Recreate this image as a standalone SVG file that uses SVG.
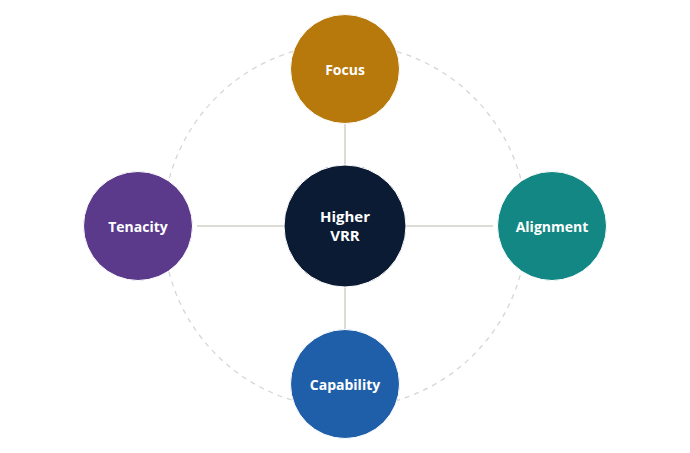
<svg xmlns="http://www.w3.org/2000/svg" width="690" height="453" viewBox="0 0 690 453">
<style>
.lbl{font-family:"Open Sans","Liberation Sans",sans-serif;font-weight:700;font-size:14px;fill:#ffffff;text-anchor:middle}
.big{font-size:15px}
.conn{stroke:#dcdcd6;stroke-width:2;fill:none}
.ring{stroke:#d6d6d6;stroke-width:1.3;fill:none;stroke-dasharray:5 5}
.node{stroke:#ffffff;stroke-width:1}
</style>
<rect width="690" height="453" fill="#ffffff"/>
<g id="connectors">
<circle class="ring" cx="345" cy="226" r="182"/>
<line class="conn" x1="345" y1="123" x2="345" y2="165"/>
<line class="conn" x1="345" y1="287" x2="345" y2="330"/>
<line class="conn" x1="197" y1="226" x2="284" y2="226"/>
<line class="conn" x1="406" y1="226" x2="493" y2="226"/>
</g>
<g id="focus"><circle class="node" cx="345" cy="69" r="54.5" fill="#b7780c"/><text class="lbl" x="345" y="75">Focus</text></g>
<g id="tenacity"><circle class="node" cx="138" cy="226" r="54.5" fill="#5b3a8b"/><text class="lbl" x="138" y="232">Tenacity</text></g>
<g id="alignment"><circle class="node" cx="552" cy="226" r="54.5" fill="#128783"/><text class="lbl" x="552" y="232">Alignment</text></g>
<g id="capability"><circle class="node" cx="345" cy="384" r="54.5" fill="#1f5fa9"/><text class="lbl" x="345" y="390">Capability</text></g>
<g id="center"><circle class="node" cx="345" cy="226" r="61" fill="#0b1b34"/><text class="lbl big" x="345" y="222">Higher</text><text class="lbl big" x="345" y="241">VRR</text></g>
</svg>
